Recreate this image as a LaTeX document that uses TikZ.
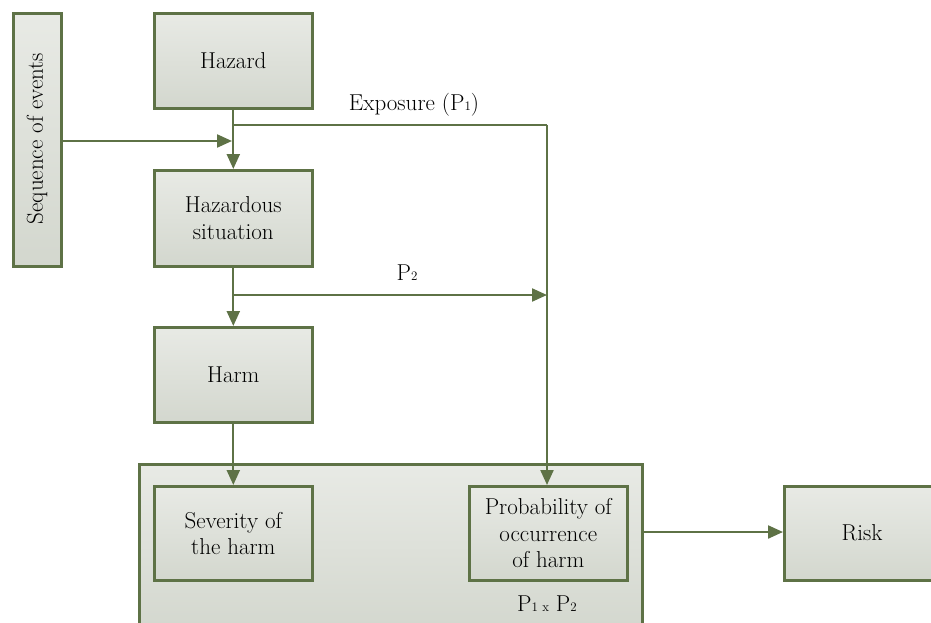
\documentclass[tikz,border=0pt]{standalone}
\usetikzlibrary{arrows.meta}
\definecolor{bord}{HTML}{5E7246}
\definecolor{ftop}{HTML}{E8EAE5}
\definecolor{fbot}{HTML}{D3D7CE}
\tikzset{
  x=1pt, y=-1pt,
  bigfont/.style={font=\fontsize{23}{26.5}\selectfont},
  box/.style={draw=bord, line width=2.6pt, top color=ftop, bottom color=fbot, align=center, bigfont, inner sep=0pt},
  conn/.style={draw=bord, line width=2.2pt, -{Triangle[length=15pt,width=13pt]}},
  plain/.style={draw=bord, line width=2.2pt},
  lbl/.style={bigfont, inner sep=1pt}
}
\newcommand{\subsm}[1]{{\fontsize{13}{13}\selectfont #1}}
\begin{document}
\begin{tikzpicture}
\useasboundingbox (0,0) rectangle (931,623);
\begin{scope}
\clip (0,0) rectangle (931,623);
\node[box, minimum width=503pt, minimum height=168pt, anchor=north west] (big) at (138,463) {};
\node[box, minimum width=153pt, minimum height=94pt, anchor=north west] (risk) at (783,485) {};
\end{scope}
\node[bigfont] at (862,533) {Risk};
\node[box, minimum width=48pt, minimum height=253pt, anchor=north west] (seq) at (12,12) {};
\node[bigfont, rotate=90] at (37,138.5) {Sequence of events};
\node[box, minimum width=158pt, minimum height=95pt, anchor=north west] (hazard) at (153,12) {Hazard};
\node[box, minimum width=158pt, minimum height=96pt, anchor=north west] (hsit) at (153,169) {Hazardous\\situation};
\node[box, minimum width=158pt, minimum height=95pt, anchor=north west] (harm) at (153,326) {Harm};
\node[box, minimum width=158pt, minimum height=94pt, anchor=north west] (sev) at (153,485) {Severity of\\the harm};
\node[box, minimum width=158pt, minimum height=94pt, anchor=north west] (prob) at (468,485) {Probability of\\occurrence\\of harm};
\node[lbl] (pp) at (547,604) {P\subsm{1 x} P\subsm{2}};
\coordinate (ej) at (232,125);
\coordinate (sj) at (232,141);
\coordinate (pj) at (232,295);
\coordinate (ec) at (547,125);
\coordinate (p2end) at (547,295);
\draw[conn] (hazard.south) -- (hsit.north);
\draw[conn] (seq.east |- sj) -- (sj);
\draw[plain] (ej) -- (ec);
\draw[conn] (ec) -- (prob.north -| ec);
\draw[conn] (hsit.south) -- (harm.north);
\draw[conn] (pj) -- (p2end);
\draw[conn] (harm.south) -- (sev.north);
\draw[conn] (big.east |- 0,532) -- (risk.west |- 0,532);
\node[lbl] at (414,105) {Exposure (P\subsm{1})};
\node[lbl] at (407,273) {P\subsm{2}};
\end{tikzpicture}
\end{document}
